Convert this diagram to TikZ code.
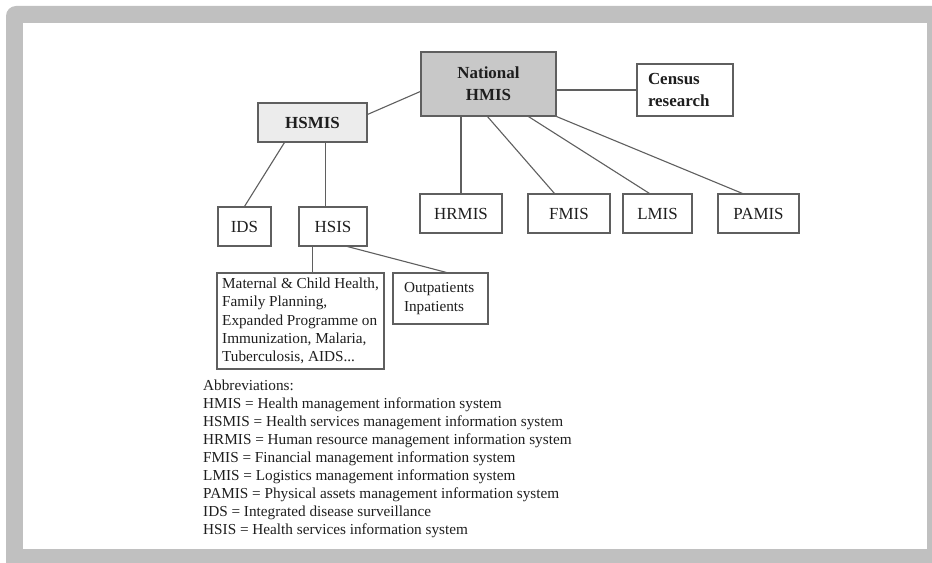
\documentclass[tikz,border=0pt]{standalone}
\usepackage{fontspec}
\setmainfont{Liberation Serif}
\usetikzlibrary{calc}

\definecolor{framegray}{RGB}{192,192,192}
\definecolor{natfill}{RGB}{200,200,200}
\definecolor{hsfill}{RGB}{236,236,236}
\definecolor{edgegray}{RGB}{95,95,95}
\definecolor{inkgray}{RGB}{30,30,30}

\begin{document}
\begin{tikzpicture}[x=1bp,y=-1bp,
  sysbox/.style={draw=edgegray, line width=1.1bp, inner sep=0pt, text=inkgray, fill=white},
  boldlabel/.style={sysbox, font=\fontsize{17}{22}\selectfont\bfseries, align=center},
  plainlabel/.style={sysbox, font=\fontsize{17}{22}\selectfont, align=center},
  smalltext/.style={sysbox, font=\fontsize{15.3}{18.5}\selectfont, align=left},
  link/.style={draw=edgegray, line width=1.1bp}]

\useasboundingbox (0,0) rectangle (932,563);
\fill[white] (0,0) rectangle (932,563);
% outer frame with a rounded top-left corner
\fill[framegray, rounded corners=10bp] (6,580) -- (6,6) -- (950,6) -- (950,580) -- cycle;
\fill[white] (23,23) rectangle (927,549);

% top level
\node[boldlabel, fill=natfill, minimum width=135bp, minimum height=64bp] (nat) at (488.5,84) {National\\HMIS};
\node[boldlabel, minimum width=96bp, minimum height=52bp, text width=74bp, align=left] (census) at (685,90) {Census\\research};
\node[boldlabel, fill=hsfill, minimum width=109bp, minimum height=39bp] (hsmis) at (312.5,122.5) {HSMIS};

% second level
\node[plainlabel, minimum width=53bp, minimum height=39bp] (ids) at (244.5,226.5) {IDS};
\node[plainlabel, minimum width=68bp, minimum height=39bp] (hsis) at (333,226.5) {HSIS};
\node[plainlabel, minimum width=82bp, minimum height=39bp] (hrmis) at (461,213.5) {HRMIS};
\node[plainlabel, minimum width=82bp, minimum height=39bp] (fmis) at (569,213.5) {FMIS};
\node[plainlabel, minimum width=69bp, minimum height=39bp] (lmis) at (657.5,213.5) {LMIS};
\node[plainlabel, minimum width=81bp, minimum height=39bp] (pamis) at (758.5,213.5) {PAMIS};

% third level
\node[smalltext, minimum width=167bp, minimum height=96bp] (mch) at (300.5,321) {Maternal \& Child Health,\\Family Planning,\\Expanded Programme on\\Immunization, Malaria,\\Tuberculosis, AIDS...};
\node[smalltext, minimum width=95bp, minimum height=51bp, text width=73bp] (opd) at (440.5,298.5) {Outpatients\\Inpatients};

% connectors
\draw[link] ($(hsmis.north east)+(0,12)$) -- ($(nat.north west)+(0,40)$);
\draw[link] (census.west -| nat.east) -- (census.west);
\draw[link] ($(hsmis.south west)+(27,0)$) -- (ids.north);
\coordinate (hsdrop) at ($(hsmis.south west)+(68,0)$);
\draw[link] (hsdrop) -- (hsdrop |- hsis.north);
\draw[link] (hrmis.north |- nat.south) -- (hrmis.north);
\draw[link] ($(nat.south west)+(67,0)$) -- ($(fmis.north west)+(27,0)$);
\draw[link] ($(nat.south west)+(108,0)$) -- ($(lmis.north west)+(27,0)$);
\draw[link] (nat.south east) -- ($(pamis.north west)+(25,0)$);
\coordinate (mchdrop) at ($(hsis.south west)+(14,0)$);
\draw[link] (mchdrop) -- (mchdrop |- mch.north);
\draw[link] ($(hsis.south west)+(49,0)$) -- ($(opd.north west)+(54,0)$);

% legend
\node[anchor=north west, inner sep=0pt, text=inkgray, font=\fontsize{15.3}{18}\selectfont, align=left] (abbr) at (203,380) {Abbreviations:\\
HMIS = Health management information system\\
HSMIS = Health services management information system\\
HRMIS = Human resource management information system\\
FMIS = Financial management information system\\
LMIS = Logistics management information system\\
PAMIS = Physical assets management information system\\
IDS = Integrated disease surveillance\\
HSIS = Health services information system};
\end{tikzpicture}
\end{document}
